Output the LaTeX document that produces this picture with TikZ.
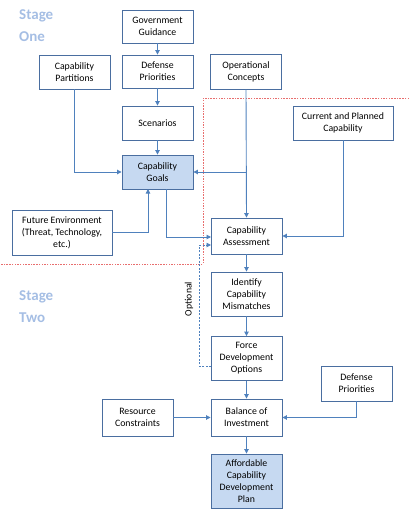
\documentclass[tikz,border=0pt]{standalone}
\usepackage{fontspec}
\setmainfont{Carlito}
\usetikzlibrary{arrows.meta}
\definecolor{boxline}{RGB}{74,110,160}
\definecolor{conn}{RGB}{79,129,189}
\definecolor{goalfill}{RGB}{198,217,241}
\definecolor{stagec}{RGB}{165,190,228}
\definecolor{redline}{RGB}{232,110,110}
\tikzset{
  box/.style={draw=boxline, line width=0.9pt, fill=white, align=center, font=\fontsize{9.8}{12}\selectfont, inner sep=0pt},
  goal/.style={box, fill=goalfill},
  conn/.style={draw=conn, line width=0.9pt, -{Triangle[length=4.5pt,width=4.5pt]}},
  optconn/.style={conn, dash pattern=on 2pt off 1.5pt},
  stage/.style={text=stagec, font=\fontsize{15}{22}\selectfont\bfseries, align=left, anchor=north west, inner sep=0pt},
  boundary/.style={draw=redline, line width=0.7pt, dash pattern=on 1.5pt off 1.2pt}
}
\begin{document}
\begin{tikzpicture}[x=1pt,y=-1pt]
\useasboundingbox (0,0) rectangle (409,512);
% boundary
\draw[boundary] (409,98) -- (203,98) -- (203,264) -- (0,264);
% boxes
\node[box, minimum width=71pt, minimum height=33pt] (gg) at (157.5,26.5) {Government\\Guidance};
\node[box, minimum width=71pt, minimum height=33pt] (dp1) at (157.5,71.5) {Defense\\Priorities};
\node[box, minimum width=71pt, minimum height=34pt] (sc) at (157.5,123) {Scenarios};
\node[goal, minimum width=71pt, minimum height=34pt] (cg) at (157.5,172) {Capability\\Goals};
\node[box, minimum width=71pt, minimum height=34pt] (cp) at (74.5,72) {Capability\\Partitions};
\node[box, minimum width=71pt, minimum height=35pt] (oc) at (246,71.5) {Operational\\Concepts};
\node[box, minimum width=100pt, minimum height=34pt] (cur) at (343,123) {Current and Planned\\Capability};
\node[box, minimum width=71pt, minimum height=36pt] (ca) at (246.5,236) {Capability\\Assessment};
\node[box, minimum width=100pt, minimum height=45pt] (fe) at (62,232.5) {Future Environment\\(Threat, Technology,\\etc.)};
\node[box, minimum width=71pt, minimum height=44pt] (icm) at (246.5,294) {Identify\\Capability\\Mismatches};
\node[box, minimum width=71pt, minimum height=44pt] (fdo) at (246.5,358.5) {Force\\Development\\Options};
\node[box, minimum width=71pt, minimum height=35pt] (dp2) at (356.5,383.5) {Defense\\Priorities};
\node[box, minimum width=71pt, minimum height=37pt] (rc) at (137.5,417.5) {Resource\\Constraints};
\node[box, minimum width=71pt, minimum height=37pt] (boi) at (246.5,417.5) {Balance of\\Investment};
\node[goal, minimum width=71pt, minimum height=54pt] (acdp) at (246.5,481) {Affordable\\Capability\\Development\\Plan};
% stage labels
\node[stage] (s1) at (19,9) {Stage\\One};
\node[stage] (s2) at (19,290) {Stage\\Two};
% connectors
\draw[conn] (gg) -- (dp1);
\draw[conn] (dp1) -- (sc);
\draw[conn] (sc) -- (cg);
\draw[conn] (cp.south) |- (cg.west);
\draw[conn] (oc.south) -- (ca.north);
\draw[conn] (oc.south |- cg.east) -- (cg.east);
\draw[conn] (cur.south) |- (ca.east);
\draw[conn] (fe.east) -| (148,189);
\draw[conn] (166,189) |- (211,237);
\coordinate (optstart) at (211,366);
\draw[optconn] (optstart) -| (199,245) -- (211,245);
\node[rotate=90, font=\fontsize{9.8}{12}\selectfont, inner sep=0pt] (opt) at (189,299) {Optional};
\draw[conn] (ca) -- (icm);
\draw[conn] (icm) -- (fdo);
\draw[conn] (fdo) -- (boi);
\draw[conn] (dp2.south) |- (boi.east);
\draw[conn] (rc) -- (boi);
\draw[conn] (boi) -- (acdp);
\end{tikzpicture}
\end{document}
